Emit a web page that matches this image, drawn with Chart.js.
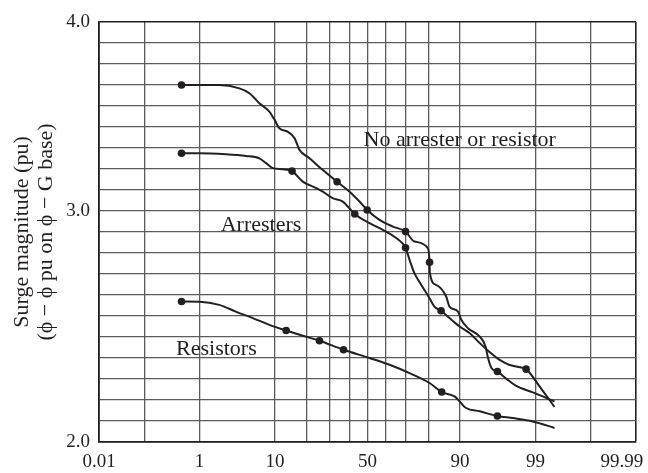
<!DOCTYPE html>
<html>
<head>
<meta charset="utf-8">
<script src="https://cdn.jsdelivr.net/npm/chart.js@4.4.1/dist/chart.umd.min.js"></script>
<style>
  html, body { margin: 0; padding: 0; background: #fff; }
</style>
</head>
<body>
<canvas id="chart" width="648" height="473"></canvas>
<script>
// x: cumulative probability (%), y: surge magnitude (pu)
const seriesNames = ['No arrester or resistor', 'Arresters', 'Resistors'];

const noArresterProb = [0.5, 1.0, 2.0, 3.8, 5.1, 6.7, 8.7, 9.9, 11.1, 13.4, 15.6, 17.3, 21.1, 26.7, 33.7, 40.2, 45.6, 49.8, 56.6, 63.7,
  70.1, 74.2, 79.8, 80.5, 80.6, 82.9, 86.2, 87.2, 89.5, 90.3, 91.8, 94.0, 94.9, 95.2, 95.7, 96.4, 97.3, 98.0, 98.9, 99.52];
const noArresterPu = [3.70, 3.70, 3.70, 3.684, 3.661, 3.613, 3.573, 3.534, 3.494, 3.478, 3.447, 3.391, 3.351, 3.296, 3.239, 3.192, 3.145, 3.105, 3.058, 3.026,
  3.002, 2.955, 2.923, 2.856, 2.806, 2.748, 2.693, 2.645, 2.621, 2.582, 2.542, 2.502, 2.455, 2.407, 2.352, 2.336, 2.300, 2.268, 2.236, 2.193];
const noArresterMarks = [0, 14, 17, 20, 23, 35];

const arrestersProb = [0.5, 1.0, 2.5, 4.6, 6.7, 8.0, 9.5, 12.0, 14.8, 18.5, 23.9, 26.8, 31.5, 36.6, 43.0, 51.1, 58.4, 65.5,
  70.1, 72.0, 74.2, 77.2, 80.5, 82.3, 84.6, 87.2, 89.9, 92.1, 94.0, 95.4, 96.6, 97.5, 98.2, 98.6, 99.14, 99.52];
const arrestersPu = [3.375, 3.375, 3.370, 3.362, 3.351, 3.328, 3.304, 3.299, 3.290, 3.240, 3.209, 3.192, 3.161, 3.145, 3.086, 3.042, 3.010, 2.971,
  2.925, 2.867, 2.804, 2.748, 2.685, 2.645, 2.625, 2.590, 2.550, 2.519, 2.471, 2.430, 2.392, 2.368, 2.357, 2.347, 2.265, 2.167];
const arrestersMarks = [0, 8, 14, 18, 24, 33];

const resistorsProb = [0.5, 1.0, 2.0, 3.4, 5.6, 8.7, 13.0, 18.5, 25.3, 37.0, 51.1, 62.0, 72.0, 80.5, 84.8, 88.6, 91.4, 94.0, 96.4, 97.8, 98.9, 99.52];
const resistorsPu = [2.669, 2.668, 2.653, 2.621, 2.590, 2.558, 2.531, 2.506, 2.482, 2.439, 2.400, 2.368, 2.328, 2.281, 2.238, 2.217, 2.162, 2.146, 2.124, 2.114, 2.098, 2.067];
const resistorsMarks = [0, 6, 8, 9, 14, 18];

// probability paper grid
const gridProb = [0.01, 0.1, 1, 10, 20, 30, 40, 50, 60, 70, 80, 90, 99, 99.9, 99.99];
const probLabels = ['0.01', '', '1', '10', '', '', '', '50', '', '', '', '90', '99', '', '99.99      '];
const puTicks = [2.0, 2.1, 2.2, 2.3, 2.4, 2.5, 2.6, 2.7, 2.8, 2.9, 3.0, 3.1, 3.2, 3.3, 3.4, 3.5, 3.6, 3.7, 3.8, 3.9, 4.0];
const puLabels = ['2.0', '', '', '', '', '', '', '', '', '', '', '3.0', '', '', '', '', '', '', '', '', '4.0'];

const ink = '#231f20';
const serif = '"Liberation Serif", "DejaVu Serif", serif';

// inverse normal cdf (Acklam), percent in -> standard deviate out
function probit(pct) {
  const p = pct / 100;
  const a = [-3.969683028665376e+01, 2.209460984245205e+02, -2.759285104469687e+02, 1.383577518672690e+02, -3.066479806614716e+01, 2.506628277459239e+00];
  const b = [-5.447609879822406e+01, 1.615858368580409e+02, -1.556989798598866e+02, 6.680131188771972e+01, -1.328068155288572e+01];
  const c = [-7.784894002430293e-03, -3.223964580411365e-01, -2.400758277161838e+00, -2.549732539343734e+00, 4.374664141464968e+00, 2.938163982698783e+00];
  const d = [7.784695709041462e-03, 3.224671290700398e-01, 2.445134137142996e+00, 3.754408661907416e+00];
  const pLow = 0.02425;
  let q, r;
  if (p < pLow) {
    q = Math.sqrt(-2 * Math.log(p));
    return (((((c[0] * q + c[1]) * q + c[2]) * q + c[3]) * q + c[4]) * q + c[5]) / ((((d[0] * q + d[1]) * q + d[2]) * q + d[3]) * q + 1);
  }
  if (p <= 1 - pLow) {
    q = p - 0.5;
    r = q * q;
    return (((((a[0] * r + a[1]) * r + a[2]) * r + a[3]) * r + a[4]) * r + a[5]) * q / (((((b[0] * r + b[1]) * r + b[2]) * r + b[3]) * r + b[4]) * r + 1);
  }
  q = Math.sqrt(-2 * Math.log(1 - p));
  return -(((((c[0] * q + c[1]) * q + c[2]) * q + c[3]) * q + c[4]) * q + c[5]) / ((((d[0] * q + d[1]) * q + d[2]) * q + d[3]) * q + 1);
}

function curve(label, probs, pus, marks) {
  return {
    label: label,
    data: probs.map((p, i) => ({ x: probit(p), y: pus[i] })),
    borderColor: ink,
    backgroundColor: ink,
    borderWidth: 2,
    cubicInterpolationMode: 'monotone',
    pointRadius: ctx => marks.includes(ctx.dataIndex) ? 3.8 : 0,
    pointBorderWidth: 0,
    fill: false
  };
}

const curveLabels = {
  id: 'curveLabels',
  afterDatasetsDraw(chart) {
    const { ctx, scales: { x, y } } = chart;
    const spots = [[47.8, 3.411], [2.1, 3.005], [0.40, 2.415]];
    ctx.save();
    ctx.font = '22px ' + serif;
    ctx.fillStyle = ink;
    ctx.textAlign = 'left';
    ctx.textBaseline = 'alphabetic';
    seriesNames.forEach((name, i) => {
      ctx.fillText(name, x.getPixelForValue(probit(spots[i][0])), y.getPixelForValue(spots[i][1]));
    });
    ctx.restore();
  }
};

const lastX = gridProb.length - 1;
const lastY = puTicks.length - 1;

new Chart(document.getElementById('chart'), {
  type: 'line',
  data: {
    datasets: [
      curve(seriesNames[0], noArresterProb, noArresterPu, noArresterMarks),
      curve(seriesNames[1], arrestersProb, arrestersPu, arrestersMarks),
      curve(seriesNames[2], resistorsProb, resistorsPu, resistorsMarks)
    ]
  },
  options: {
    responsive: false,
    animation: false,
    events: [],
    layout: { padding: { top: 22, right: 12, bottom: 0, left: 0 } },
    plugins: { legend: { display: false }, tooltip: { enabled: false } },
    scales: {
      x: {
        type: 'linear',
        min: probit(gridProb[0]),
        max: probit(gridProb[lastX]),
        afterBuildTicks: scale => { scale.ticks = gridProb.map(p => ({ value: probit(p) })); },
        afterFit: scale => { scale.height = 31; scale.paddingLeft = 0; scale.paddingRight = 0; },
        grid: {
          color: ctx => (ctx.index === lastX ? ink : '#5c5c5c'),
          lineWidth: ctx => (ctx.index === lastX ? 1.6 : 1.3),
          drawTicks: false
        },
        border: { color: ink, width: 1.8 },
        ticks: {
          autoSkip: false,
          maxRotation: 0,
          padding: 9,
          color: ink,
          font: { family: serif, size: 19 },
          callback: (v, i) => probLabels[i]
        }
      },
      y: {
        type: 'linear',
        min: 2.0,
        max: 4.0,
        afterBuildTicks: scale => { scale.ticks = puTicks.map(v => ({ value: v })); },
        afterFit: scale => { scale.width = 99; },
        grid: {
          color: ctx => (ctx.index === lastY ? ink : '#5c5c5c'),
          lineWidth: ctx => (ctx.index === lastY ? 1.6 : 1.3),
          drawTicks: false
        },
        border: { color: ink, width: 1.8 },
        ticks: {
          autoSkip: false,
          padding: 9,
          color: ink,
          font: { family: serif, size: 19 },
          callback: (v, i) => puLabels[i]
        },
        title: {
          display: true,
          text: ['Surge magnitude (pu)', '(\u03d5 \u2212 \u03d5 pu on \u03d5 \u2212 G base)'],
          color: ink,
          font: { family: serif, size: 22, lineHeight: 1.1 },
          padding: { top: 10, bottom: 0 }
        }
      }
    }
  },
  plugins: [curveLabels]
});
</script>
</body>
</html>
